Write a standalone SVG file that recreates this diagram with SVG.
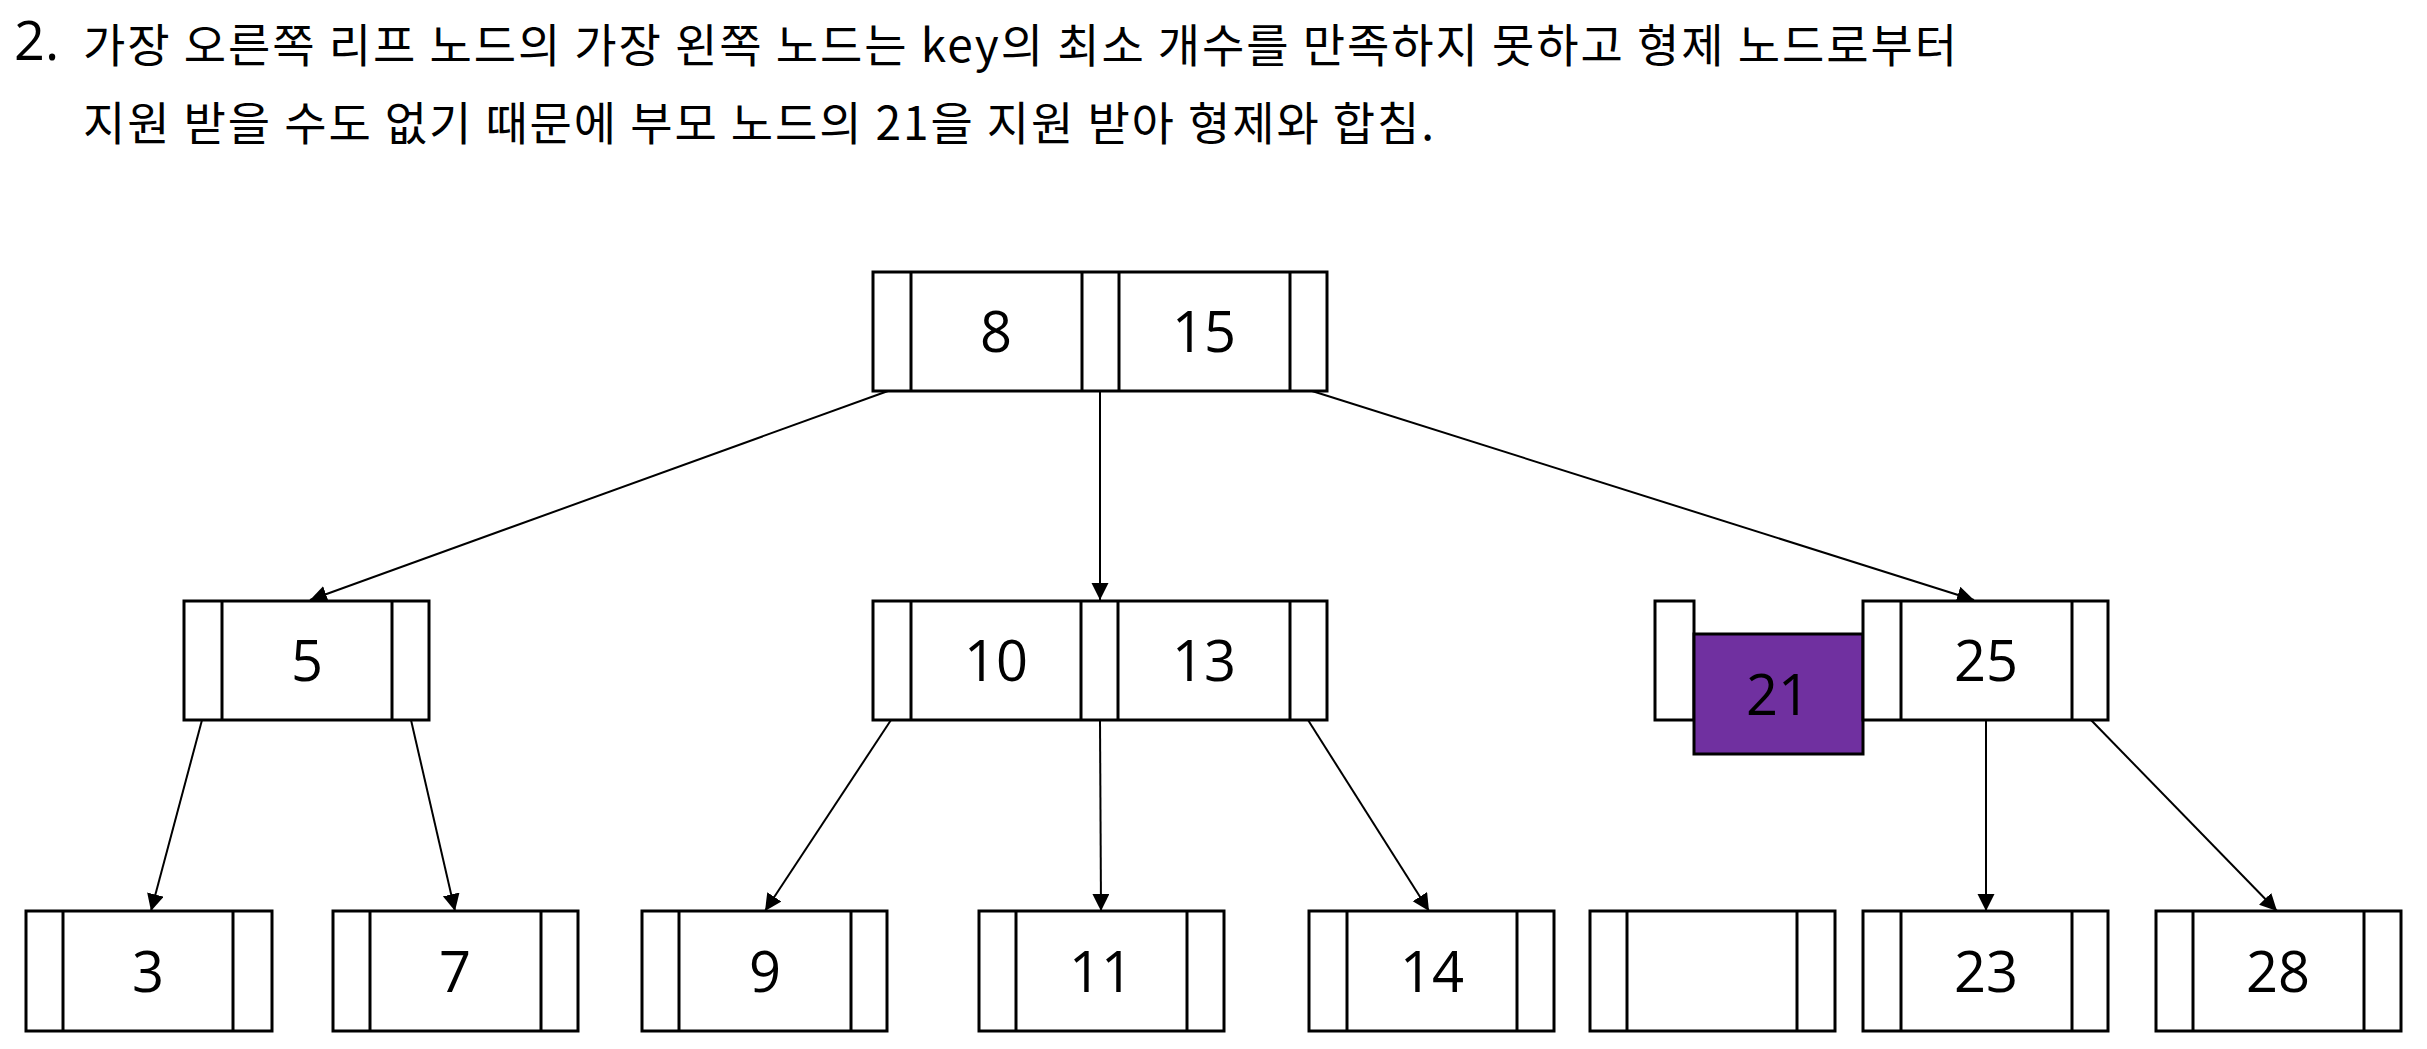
<svg xmlns="http://www.w3.org/2000/svg" width="2427" height="1049" viewBox="0 0 2427 1049">
<style>
.box{fill:#fff;stroke:#000;stroke-width:3}
.div{stroke:#000;stroke-width:3}
.hl{fill:#7030A0;stroke:#000;stroke-width:3}
.key{font-family:"Open Sans","Noto Sans",sans-serif;font-size:56px;fill:#000;text-anchor:middle}
.title{font-family:"Noto Sans CJK KR","Noto Sans",sans-serif;font-size:46px;fill:#000}
.num{font-family:"Open Sans","Noto Sans",sans-serif;font-size:54px;fill:#000}
.edge{stroke:#000;stroke-width:2;fill:none;marker-end:url(#arr)}
</style>
<defs>
<marker id="arr" markerUnits="userSpaceOnUse" markerWidth="18" markerHeight="18" refX="17" refY="8.5" orient="auto"><path d="M0,0 L17,8.5 L0,17 z" fill="#000"/></marker>
</defs>
<rect width="2427" height="1049" fill="#fff"/>
<g id="title">
<text class="num" x="14" y="60">2.</text>
<text class="title" x="83" y="62" textLength="1874" lengthAdjust="spacing">가장 오른쪽 리프 노드의 가장 왼쪽 노드는 key의 최소 개수를 만족하지 못하고 형제 노드로부터</text>
<text class="title" x="83" y="140" textLength="1351" lengthAdjust="spacing">지원 받을 수도 없기 때문에 부모 노드의 21을 지원 받아 형제와 합침.</text>
</g>
<g id="connectors">
<line class="edge" x1="888" y1="391" x2="310" y2="600"/>
<line class="edge" x1="1100" y1="391" x2="1100" y2="600"/>
<line class="edge" x1="1312" y1="391" x2="1974" y2="600"/>
<line class="edge" x1="202" y1="720" x2="151" y2="911"/>
<line class="edge" x1="411" y1="720" x2="455" y2="911"/>
<line class="edge" x1="891" y1="720" x2="765" y2="911"/>
<line class="edge" x1="1100" y1="720" x2="1101" y2="911"/>
<line class="edge" x1="1308" y1="720" x2="1429" y2="911"/>
<line class="edge" x1="1986" y1="720" x2="1986" y2="911"/>
<line class="edge" x1="2091" y1="720" x2="2277" y2="911"/>
</g>
<g id="node-root">
<rect class="box" x="873" y="272" width="454" height="119"/>
<line class="div" x1="911" y1="272" x2="911" y2="391"/>
<line class="div" x1="1082" y1="272" x2="1082" y2="391"/>
<line class="div" x1="1119" y1="272" x2="1119" y2="391"/>
<line class="div" x1="1290" y1="272" x2="1290" y2="391"/>
<text class="key" x="996" y="352">8</text>
<text class="key" x="1204" y="352">15</text>
</g>
<g id="node-5">
<rect class="box" x="184" y="601" width="245" height="119"/>
<line class="div" x1="222" y1="601" x2="222" y2="720"/>
<line class="div" x1="392" y1="601" x2="392" y2="720"/>
<text class="key" x="307" y="681">5</text>
</g>
<g id="node-10-13">
<rect class="box" x="873" y="601" width="454" height="119"/>
<line class="div" x1="911" y1="601" x2="911" y2="720"/>
<line class="div" x1="1081" y1="601" x2="1081" y2="720"/>
<line class="div" x1="1118" y1="601" x2="1118" y2="720"/>
<line class="div" x1="1290" y1="601" x2="1290" y2="720"/>
<text class="key" x="996" y="681">10</text>
<text class="key" x="1204" y="681">13</text>
</g>
<g id="node-21-25">
<rect class="box" x="1655" y="601" width="39" height="119"/>
<rect class="hl" x="1694" y="634" width="169" height="120"/>
<text class="key" x="1778" y="715">21</text>
<rect class="box" x="1863" y="601" width="245" height="119"/>
<line class="div" x1="1901" y1="601" x2="1901" y2="720"/>
<line class="div" x1="2072" y1="601" x2="2072" y2="720"/>
<text class="key" x="1986" y="681">25</text>
</g>
<g id="leaf-3">
<rect class="box" x="26" y="911" width="246" height="120"/>
<line class="div" x1="63" y1="911" x2="63" y2="1031"/>
<line class="div" x1="233" y1="911" x2="233" y2="1031"/>
<text class="key" x="148" y="992">3</text>
</g>
<g id="leaf-7">
<rect class="box" x="333" y="911" width="245" height="120"/>
<line class="div" x1="370" y1="911" x2="370" y2="1031"/>
<line class="div" x1="541" y1="911" x2="541" y2="1031"/>
<text class="key" x="455" y="992">7</text>
</g>
<g id="leaf-9">
<rect class="box" x="642" y="911" width="245" height="120"/>
<line class="div" x1="679" y1="911" x2="679" y2="1031"/>
<line class="div" x1="851" y1="911" x2="851" y2="1031"/>
<text class="key" x="765" y="992">9</text>
</g>
<g id="leaf-11">
<rect class="box" x="979" y="911" width="245" height="120"/>
<line class="div" x1="1016" y1="911" x2="1016" y2="1031"/>
<line class="div" x1="1187" y1="911" x2="1187" y2="1031"/>
<text class="key" x="1101" y="992">11</text>
</g>
<g id="leaf-14">
<rect class="box" x="1309" y="911" width="245" height="120"/>
<line class="div" x1="1347" y1="911" x2="1347" y2="1031"/>
<line class="div" x1="1517" y1="911" x2="1517" y2="1031"/>
<text class="key" x="1432" y="992">14</text>
</g>
<g id="leaf-empty">
<rect class="box" x="1590" y="911" width="245" height="120"/>
<line class="div" x1="1627" y1="911" x2="1627" y2="1031"/>
<line class="div" x1="1797" y1="911" x2="1797" y2="1031"/>
</g>
<g id="leaf-23">
<rect class="box" x="1863" y="911" width="245" height="120"/>
<line class="div" x1="1901" y1="911" x2="1901" y2="1031"/>
<line class="div" x1="2072" y1="911" x2="2072" y2="1031"/>
<text class="key" x="1986" y="992">23</text>
</g>
<g id="leaf-28">
<rect class="box" x="2156" y="911" width="245" height="120"/>
<line class="div" x1="2193" y1="911" x2="2193" y2="1031"/>
<line class="div" x1="2364" y1="911" x2="2364" y2="1031"/>
<text class="key" x="2278" y="992">28</text>
</g>
</svg>
